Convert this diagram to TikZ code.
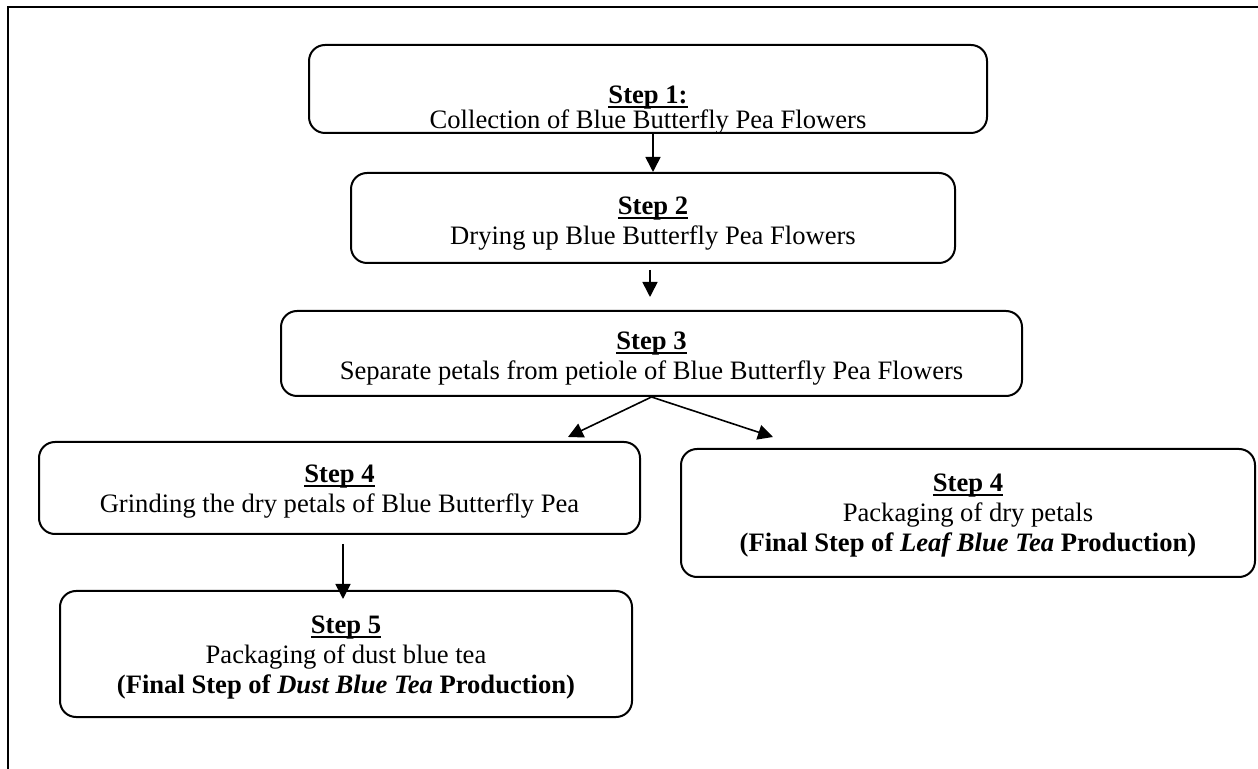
\documentclass[tikz,border=0pt]{standalone}
\usepackage{fontspec}
\setmainfont{Liberation Serif}
\usetikzlibrary{arrows.meta}
\newcommand{\stepuline}[1]{\setbox0\hbox{#1}\rlap{\rule[-2.6pt]{\wd0}{0.9pt}}\box0}
\tikzset{
  stepbox/.style={draw, line width=1pt, rounded corners=8pt, inner sep=0pt},
  steptext/.style={anchor=north, align=center, inner sep=0pt, font=\fontsize{13.3}{15}\selectfont},
  flow/.style={-{Triangle[length=7.5pt,width=7.5pt]}, line width=0.8pt}
}
\begin{document}
\begin{tikzpicture}[x=0.5pt, y=-0.5pt]
  \useasboundingbox (0,0) rectangle (1258,769);
  \draw[line width=1pt] (7.5,769) -- (7.5,7.5) -- (1258,7.5);
  %boxes
  \node[stepbox, minimum width=339pt, minimum height=44pt] at (648,89) (box1) {};
  \node[stepbox, minimum width=302pt, minimum height=45pt] at (653,218) (box2) {};
  \node[stepbox, minimum width=370.5pt, minimum height=42.5pt] at (651.5,353.5) (box3) {};
  \node[stepbox, minimum width=300.5pt, minimum height=46pt] at (339.5,488) (box4a) {};
  \node[stepbox, minimum width=287pt, minimum height=64pt] at (968,513) (box4b) {};
  \node[stepbox, minimum width=286pt, minimum height=63pt] at (346,654) (box5) {};
  %texts
  \node[steptext] at ([shift={(0,41)}]box1.north) (text1) {\stepuline{\textbf{Step 1:}}\\[-2.5pt] Collection of Blue Butterfly Pea Flowers};
  \node[steptext] at ([shift={(0,24)}]box2.north) (text2) {\stepuline{\textbf{Step 2}}\\ Drying up Blue Butterfly Pea Flowers};
  \node[steptext] at ([shift={(0,21)}]box3.north) (text3) {\stepuline{\textbf{Step 3}}\\ Separate petals from petiole of Blue Butterfly Pea Flowers};
  \node[steptext] at ([shift={(0,23)}]box4a.north) (text4a) {\stepuline{\textbf{Step 4}}\\ Grinding the dry petals of Blue Butterfly Pea};
  \node[steptext] at ([shift={(0,25)}]box4b.north) (text4b) {\stepuline{\textbf{Step 4}}\\ Packaging of dry petals\\ \textbf{(Final Step of \textit{Leaf Blue Tea} Production)}};
  \node[steptext] at ([shift={(0,25)}]box5.north) (text5) {\stepuline{\textbf{Step 5}}\\ Packaging of dust blue tea\\ \textbf{(Final Step of \textit{Dust Blue Tea} Production)}};
  %arrows
  \coordinate (tip4a) at (568,437);
  \coordinate (tip4b) at (773,437);
  \draw[flow] (box1.south -| box2.north) -- (box2.north);
  \draw[flow] ([shift={(-3,6)}]box2.south) -- ([shift={(-1.5,-13)}]box3.north);
  \draw[flow] (box3.south) -- (tip4a);
  \draw[flow] (box3.south) -- (tip4b);
  \draw[flow] ([shift={(3.5,9)}]box4a.south) -- ([shift={(-3,9)}]box5.north);
\end{tikzpicture}
\end{document}
